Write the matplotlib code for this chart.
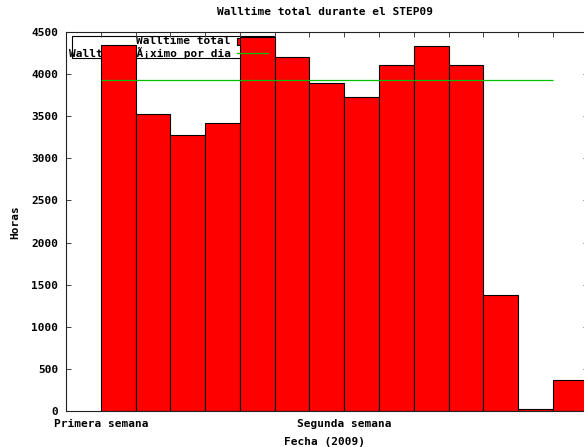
import numpy as np
import matplotlib
matplotlib.use("Agg")
import matplotlib.pyplot as plt
from matplotlib.patches import Rectangle

# ===============================
# Data
# ===============================
walltime = [4340, 3530, 3280, 3420, 4445, 4205, 3890, 3725, 4105, 4330, 4105, 1380, 25, 370]
max_daily = 3925
tick_labels = {0: "Primera semana", 7: "Segunda semana"}
yticks = list(range(0, 5000, 500))

days = np.arange(len(walltime))

plt.rcParams["font.family"] = ["DejaVu Sans Mono"]
plt.rcParams["font.weight"] = "bold"
plt.rcParams["font.size"] = 8

W, H = 584, 447
fig = plt.figure(figsize=(W / 100, H / 100), dpi=100)

# plot area in pixels
left, right, top, bottom = 66, 587.6, 32, 411
ax = fig.add_axes([left / W, 1 - bottom / H, (right - left) / W, (bottom - top) / H])

# ===============================
# Bars + max line
# ===============================
ax.bar(days, walltime, width=1, align="edge", color="#ff0000",
       edgecolor="black", linewidth=0.8, zorder=2)
ax.hlines(max_daily, days[0], days[-1], color="#00c000", linewidth=0.9, zorder=3)

ax.set_xlim(-1, len(walltime))
ax.set_ylim(0, 4500)

ax.set_xticks(range(0, len(walltime)))
ax.set_xticklabels([tick_labels.get(i, "") for i in range(len(walltime))])
ax.set_yticks(yticks)
ax.tick_params(direction="in", length=3.3, width=0.7, color="#444444",
               top=True, right=True)
ax.tick_params(axis="x", pad=6)
ax.tick_params(axis="y", pad=5.5)
for s in ax.spines.values():
    s.set_linewidth(0.8)
    s.set_color("#222222")
    s.set_zorder(4)

# ===============================
# Legend box (drawn under the bars, like the original)
# ===============================
def ax_x(px):
    return (px - left) / (right - left)

def ax_y(py):
    return (bottom - py) / (bottom - top)

ax.add_patch(Rectangle((ax_x(72), ax_y(58)), ax_x(274) - ax_x(72), ax_y(36) - ax_y(58),
                       transform=ax.transAxes, facecolor="white", edgecolor="black",
                       linewidth=0.8, zorder=1, clip_on=False))
ax.text(ax_x(231), ax_y(41.5), "Walltime total", transform=ax.transAxes,
        ha="right", va="center", zorder=1)
ax.text(ax_x(231), ax_y(53.3), "Walltime mÃ¡ximo por dia", transform=ax.transAxes,
        ha="right", va="center", zorder=1)
ax.add_patch(Rectangle((ax_x(237), ax_y(45)), ax_x(268) - ax_x(237), ax_y(38) - ax_y(45),
                       transform=ax.transAxes, facecolor="#ff0000", edgecolor="black",
                       linewidth=0.8, zorder=1))
ax.plot([ax_x(237), ax_x(268)], [ax_y(53.3)] * 2, transform=ax.transAxes,
        color="#00c000", linewidth=0.9, zorder=3)

# ===============================
# Titles
# ===============================
fig.text(325 / W, 1 - 12 / H, "Walltime total durante el STEP09", ha="center", va="center")
fig.text(325 / W, 1 - 442 / H, "Fecha (2009)", ha="center", va="center")
fig.text(15 / W, 1 - 222 / H, "Horas", ha="center", va="center", rotation=90)

fig.savefig("out.png", dpi=100)
